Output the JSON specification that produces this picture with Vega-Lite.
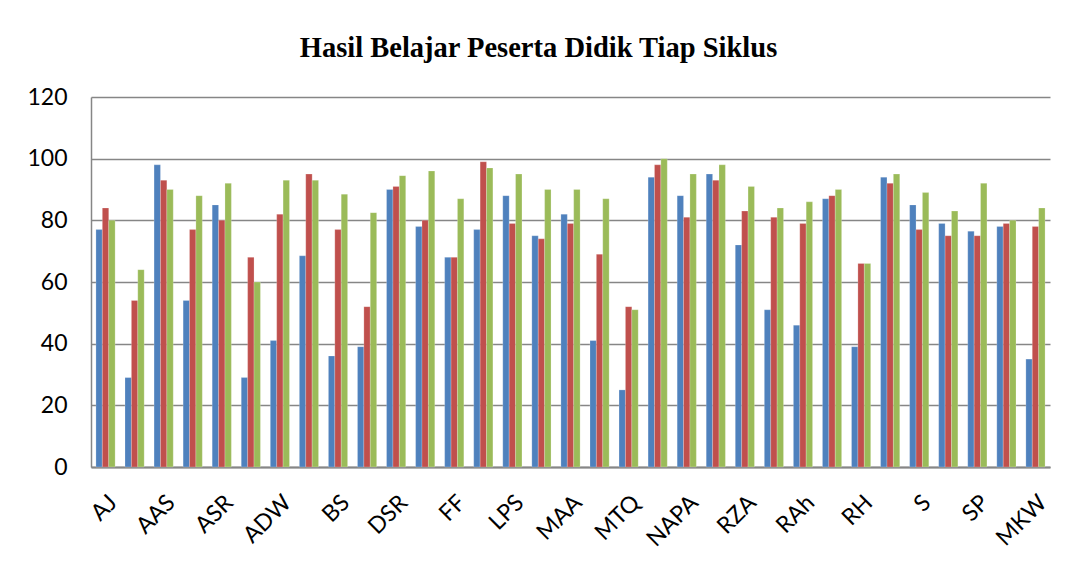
{
  "$schema": "https://vega.github.io/schema/vega-lite/v6.json",
  "autosize": {"type": "none"},
  "padding": {"left": 91, "top": 97, "right": 25, "bottom": 94},
  "width": 959,
  "height": 370,
  "background": "white",
  "title": {
    "text": "Hasil Belajar Peserta Didik Tiap Siklus",
    "font": "Liberation Serif",
    "fontSize": 28.5,
    "fontWeight": "bold",
    "color": "black",
    "anchor": "middle",
    "baseline": "alphabetic",
    "offset": 1,
    "dx": -32
  },
  "data": {
    "values": [
      {"nama": "AJ", "s1": 77, "s2": 84, "s3": 80},
      {"nama": "AF", "s1": 29, "s2": 54, "s3": 64},
      {"nama": "AAS", "s1": 98, "s2": 93, "s3": 90},
      {"nama": "AR", "s1": 54, "s2": 77, "s3": 88},
      {"nama": "ASR", "s1": 85, "s2": 80, "s3": 92},
      {"nama": "AW", "s1": 29, "s2": 68, "s3": 60},
      {"nama": "ADW", "s1": 41, "s2": 82, "s3": 93},
      {"nama": "AZ", "s1": 68.5, "s2": 95, "s3": 93},
      {"nama": "BS", "s1": 36, "s2": 77, "s3": 88.5},
      {"nama": "DA", "s1": 39, "s2": 52, "s3": 82.5},
      {"nama": "DSR", "s1": 90, "s2": 91, "s3": 94.5},
      {"nama": "FA", "s1": 78, "s2": 80, "s3": 96},
      {"nama": "FF", "s1": 68, "s2": 68, "s3": 87},
      {"nama": "IK", "s1": 77, "s2": 99, "s3": 97},
      {"nama": "LPS", "s1": 88, "s2": 79, "s3": 95},
      {"nama": "MAF", "s1": 75, "s2": 74, "s3": 90},
      {"nama": "MAA", "s1": 82, "s2": 79, "s3": 90},
      {"nama": "MF", "s1": 41, "s2": 69, "s3": 87},
      {"nama": "MTQ", "s1": 25, "s2": 52, "s3": 51},
      {"nama": "NA", "s1": 94, "s2": 98, "s3": 100},
      {"nama": "NAPA", "s1": 88, "s2": 81, "s3": 95},
      {"nama": "RA", "s1": 95, "s2": 93, "s3": 98},
      {"nama": "RZA", "s1": 72, "s2": 83, "s3": 91},
      {"nama": "RAp", "s1": 51, "s2": 81, "s3": 84},
      {"nama": "RAh", "s1": 46, "s2": 79, "s3": 86},
      {"nama": "RF", "s1": 87, "s2": 88, "s3": 90},
      {"nama": "RH", "s1": 39, "s2": 66, "s3": 66},
      {"nama": "RS", "s1": 94, "s2": 92, "s3": 95},
      {"nama": "S", "s1": 85, "s2": 77, "s3": 89},
      {"nama": "SA", "s1": 79, "s2": 75, "s3": 83},
      {"nama": "SP", "s1": 76.5, "s2": 75, "s3": 92},
      {"nama": "ZA", "s1": 78, "s2": 79, "s3": 80},
      {"nama": "MKW", "s1": 35, "s2": 78, "s3": 84}
    ]
  },
  "transform": [
    {"fold": ["s1", "s2", "s3"], "as": ["siklus", "nilai"]}
  ],
  "mark": {"type": "bar", "stroke": "#ffffff", "strokeOpacity": 0.35, "strokeWidth": 0.6},
  "encoding": {
    "x": {
      "field": "nama",
      "type": "nominal",
      "sort": null,
      "scale": {"paddingInner": 0.34, "paddingOuter": 0.17},
      "axis": {
        "title": null,
        "values": ["AJ", "AAS", "ASR", "ADW", "BS", "DSR", "FF", "LPS", "MAA", "MTQ", "NAPA", "RZA", "RAh", "RH", "S", "SP", "MKW"],
        "labelAngle": -45,
        "labelAlign": "right",
        "labelBaseline": "top",
        "labelPadding": 24,
        "labelFont": "Lato",
        "labelFontSize": 23,
        "labelColor": "black",
        "ticks": false,
        "domainColor": "#868686",
        "domainWidth": 2,
        "labelOverlap": false
      }
    },
    "xOffset": {"field": "siklus", "type": "nominal", "scale": {"paddingInner": 0, "paddingOuter": 0}},
    "y": {
      "field": "nilai",
      "type": "quantitative",
      "scale": {"domain": [0, 120], "nice": false},
      "axis": {
        "title": null,
        "values": [0, 20, 40, 60, 80, 100, 120],
        "labelFont": "Lato",
        "labelFontSize": 23,
        "labelColor": "black",
        "labelPadding": 24,
        "ticks": false,
        "domainColor": "#868686",
        "domainWidth": 1.5,
        "gridColor": "#868686",
        "gridWidth": 1.3
      }
    },
    "color": {
      "field": "siklus",
      "type": "nominal",
      "scale": {"domain": ["s1", "s2", "s3"], "range": ["#4F81BD", "#C0504D", "#9BBB59"]},
      "legend": null
    }
  },
  "config": {"view": {"stroke": null}}
}
